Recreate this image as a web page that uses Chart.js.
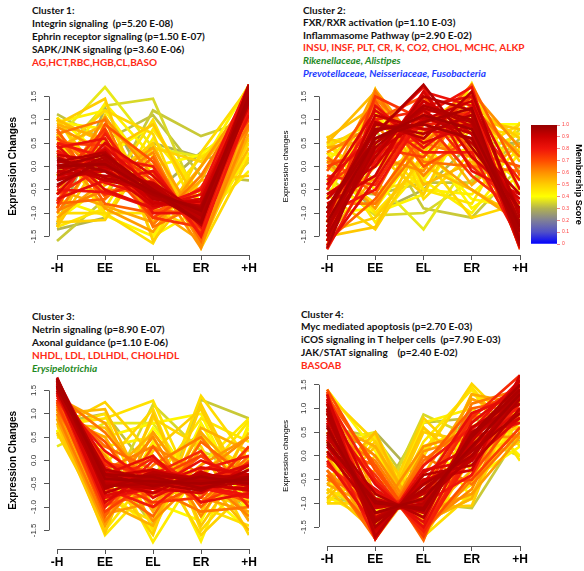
<!DOCTYPE html>
<html>
<head>
<meta charset="utf-8">
<script src="https://cdn.jsdelivr.net/npm/chart.js@4.4.1/dist/chart.umd.min.js"></script>
<style>
  body { margin: 0; background: #fff; }
  #page { position: relative; width: 584px; height: 571px; overflow: hidden; }
  canvas { position: absolute; }
  .notes { position: absolute; font-family: Lato, "Liberation Sans", sans-serif; font-size: 10px; font-weight: bold; white-space: pre; color: #111; }
  .k { color: #111; }
  .r { color: #ff2a14; }
  .g { color: #1f8a1f; font-style: italic; }
  .b { color: #1e3cff; font-style: italic; }
</style>
</head>
<body>
<div id="page">
  <div class="notes" id="n1" style="left:32px;top:3.5px;line-height:13px"></div>
  <div class="notes" id="n2" style="left:303px;top:3.7px;line-height:12.6px"></div>
  <div class="notes" id="n3" style="left:32px;top:309.5px;line-height:13px"></div>
  <div class="notes" id="n4" style="left:301px;top:307.6px;line-height:12.75px"></div>
  <canvas id="c1" style="left:0;top:70px" width="275" height="215"></canvas>
  <canvas id="c2" style="left:275px;top:70px" width="265" height="215"></canvas>
  <canvas id="c3" style="left:0;top:364px" width="275" height="215"></canvas>
  <canvas id="c4" style="left:275px;top:358px" width="265" height="215"></canvas>
  <canvas id="cbar" style="left:520px;top:109px" width="64" height="150"></canvas>
</div>
<script>
// --- data ---
const stageLabels = ['-H', 'EE', 'EL', 'ER', '+H'];
const yTickValues = [-1.5, -1, -0.5, 0, 0.5, 1, 1.5];
const membershipTicks = [0, 0.1, 0.2, 0.3, 0.4, 0.5, 0.6, 0.7, 0.8, 0.9, 1];

// each row: -H, EE, EL, ER, +H
const cluster1Profiles = [
  [0.0, 0.05, -0.55, -0.95, 1.5], [-0.2, 0.2, -0.5, -1.05, 1.55], [0.15, -0.1, -0.6, -0.9, 1.45],
  [-0.3, 0.0, -0.4, -1.15, 1.65], [0.1, 0.3, -0.7, -0.85, 1.4], [-0.1, -0.2, -0.35, -1.0, 1.6],
  [0.25, 0.1, -0.8, -0.75, 1.35], [-0.4, 0.15, -0.6, -1.2, 1.75], [0.05, -0.3, -0.5, -1.1, 1.7],
  [-0.15, 0.35, -0.75, -0.95, 1.3], [0.2, -0.25, -0.45, -1.25, 1.75], [-0.25, -0.1, -0.85, -0.7, 1.5],
  [-0.6, 0.5, -0.2, -1.2, 1.5], [0.45, -0.5, -0.9, -0.6, 1.5], [-0.7, -0.3, -0.1, -1.3, 1.4],
  [0.4, 0.6, -1.0, -1.0, 1.1], [-0.5, -0.55, -0.9, -0.5, 1.75], [0.5, 0.2, 0.0, -1.5, 1.2],
  [-0.8, 0.7, -0.6, -0.9, 1.6], [0.3, -0.6, -0.3, -1.45, 1.7], [-0.3, 0.8, -1.1, -1.3, 1.65],
  [0.6, 0.0, -1.1, -0.45, 1.0],
  [-0.9, 0.9, 0.1, -1.5, 1.3], [0.8, -0.8, -1.0, -0.5, 1.4], [-0.8, -0.7, 0.2, -1.6, 1.6],
  [0.7, 1.0, -1.3, -0.8, 0.9], [-1.0, 0.4, -1.25, -0.2, 1.45], [0.75, -0.4, 0.3, -1.7, 0.85],
  [-0.6, 1.05, -0.2, -1.75, 1.2], [0.5, -0.9, -1.4, 0.0, 1.5], [-1.1, -0.3, 0.4, -1.3, 1.65],
  [0.9, 0.6, -0.9, -1.6, 0.7],
  [1.0, 0.5, -0.4, -1.4, 0.4], [-1.3, 0.3, 0.9, -0.9, 1.0], [0.9, 1.45, -1.6, -0.3, -0.2],
  [-1.2, -1.15, 0.4, 0.1, 1.4], [0.3, 1.2, 0.7, -1.75, 0.2], [-1.0, -1.0, -1.65, 0.3, 1.7],
  [1.05, -0.6, 1.0, -1.2, 0.5], [-1.3, 0.8, -0.6, -1.0, 1.6], [0.6, -1.1, 0.6, -0.6, 0.6],
  [-0.2, 1.35, 0.2, -1.5, 0.3], [0.95, 0.8, -1.5, -0.9, 0.8], [-1.15, -0.4, 0.0, 0.25, 1.1],
  [0.6, 1.7, 0.4, 0.2, 0.9], [0.2, 1.3, 1.45, -0.9, 0.1], [-1.6, -0.7, 1.2, 0.65, 1.0],
  [1.12, 0.55, 1.1, -0.2, -0.3], [-1.35, -1.1, 0.5, 0.2, 0.15], [-1.25, 1.25, -0.6, 0.3, 0.85],
  [-0.05, 0.1, -0.65, -1.0, 1.6], [0.1, 0.0, -0.4, -1.1, 1.45], [-0.2, -0.05, -0.7, -0.85, 1.7],
  [0.0, 0.25, -0.5, -1.2, 1.4],
  [-0.45, 0.4, -0.45, -1.1, 1.6], [0.35, -0.35, -0.65, -0.8, 1.55], [-0.6, 0.0, -0.8, -0.7, 1.75],
  [0.5, 0.45, -0.3, -1.35, 1.25],
  [-0.75, 0.75, -0.95, -1.0, 1.7], [0.65, -0.65, -0.1, -1.45, 1.35], [-0.95, -0.5, -0.55, -0.9, 1.75],
  [0.85, 0.3, -0.6, -1.2, 1.05], [-0.5, -0.85, -1.2, -0.3, 1.6], [0.4, 0.9, 0.0, -1.65, 0.95],
  [-1.2, 0.6, -1.2, 0.0, 1.3], [1.0, -0.3, 0.5, -1.7, 0.6], [-0.9, 1.1, -0.9, -1.4, 1.45],
  [0.7, -1.0, -1.0, 0.2, 0.8], [-1.3, -0.9, 0.8, -0.6, 1.5], [0.95, 1.2, -0.2, -1.1, -0.1],
  [-0.7, -1.05, -1.5, 0.0, 1.75], [1.05, 0.2, 0.9, -0.8, 0.2]
];
const cluster1Membership = [
  0.97, 0.95, 0.96, 0.93, 0.94, 0.92, 0.90, 0.95, 0.91, 0.89, 0.93, 0.88,
  0.86, 0.84, 0.83, 0.82, 0.80, 0.79, 0.78, 0.76, 0.74, 0.72,
  0.69, 0.67, 0.66, 0.64, 0.63, 0.61, 0.60, 0.58, 0.57, 0.55,
  0.53, 0.51, 0.50, 0.49, 0.48, 0.47, 0.46, 0.45, 0.44, 0.43, 0.42, 0.41,
  0.37, 0.35, 0.33, 0.32, 0.30, 0.29,
  0.94, 0.92, 0.90, 0.96,
  0.85, 0.81, 0.77, 0.73,
  0.68, 0.65, 0.62, 0.59, 0.56, 0.54,
  0.52, 0.50, 0.48, 0.46, 0.45, 0.43, 0.42, 0.40
];

const cluster2Profiles = [
  [-1.2, 0.6, 1.1, 0.8, -1.3], [-1.5, 0.4, 1.3, 1.0, -1.2], [-0.9, 0.8, 0.9, 0.6, -1.4],
  [-1.3, 0.2, 1.5, 1.2, -1.6], [-1.0, 0.9, 0.7, 1.1, -1.7], [-1.6, 0.5, 1.2, 0.5, -0.6],
  [-0.7, 0.3, 1.0, 1.4, -1.0], [-1.75, 0.7, 1.75, 0.4, -0.9], [-1.1, 1.1, 0.8, 0.9, -1.5],
  [-0.6, 0.0, 1.4, 0.7, -1.5], [-1.4, 0.95, 0.6, 1.6, -1.1], [-0.8, -0.2, 1.6, 0.2, -0.7],
  [-0.4, 1.2, 0.5, 0.9, -1.75], [-1.7, -0.3, 1.3, 1.5, -0.5], [-0.3, 0.7, 1.7, -0.1, -0.6],
  [-1.5, 1.3, 0.4, 1.2, -1.4], [-1.0, -0.5, 1.1, 1.7, -1.3], [-0.5, 1.0, 0.3, 0.3, -1.6],
  [-1.78, 0.1, 0.9, 1.0, -0.3], [-0.2, -0.4, 1.2, 1.1, -1.7], [-1.2, 1.5, 1.0, -0.2, -1.0],
  [0.0, 0.4, 0.2, 1.3, -1.78],
  [-0.1, 1.4, 0.0, 0.6, -1.6], [-1.6, -0.7, 0.7, 1.75, -0.2], [0.2, -0.6, 1.3, 0.8, -1.5],
  [-1.4, 1.6, 0.1, 0.0, -0.1], [-0.8, -0.8, 0.5, 1.3, 0.2], [0.3, 0.9, -0.2, 0.9, -1.75],
  [-1.3, 0.2, -0.1, 1.6, 0.4], [0.1, -0.9, 0.8, 0.5, -0.6], [-0.5, 1.65, 0.3, -0.5, -1.2],
  [-1.1, 0.0, 1.0, -0.4, 0.5],
  [0.5, 1.6, -0.4, 0.1, -1.4], [-1.5, -1.3, 0.6, 1.0, 0.8], [0.6, 0.3, -0.6, 1.4, -1.3],
  [-0.6, -1.35, 0.3, 1.5, 0.1], [0.4, 1.0, 0.2, -1.1, -0.8], [-1.2, 1.65, -0.7, 0.3, 0.9],
  [0.65, -1.0, 0.1, 0.4, -0.3], [-0.9, 0.5, -0.5, -0.8, 0.95], [0.3, -1.2, 0.0, 1.78, -0.6],
  [0.1, 1.2, -0.3, -1.0, 0.3], [-0.3, -1.0, -0.6, 1.2, 0.6], [0.55, 0.6, 0.4, -0.7, -0.9],
  [0.45, -0.3, -1.35, 0.2, 0.7], [-0.2, -1.05, -1.0, -0.3, 0.8], [0.5, 0.8, -0.9, -1.1, 0.0],
  [-0.5, -0.6, -0.35, -0.35, 0.6], [0.2, -1.0, -0.5, 0.5, 0.5],
  [-1.3, 0.5, 1.25, 0.95, -1.4], [-1.0, 0.75, 1.05, 0.7, -1.25], [-1.5, 0.3, 1.4, 0.85, -1.0],
  [-0.9, 0.6, 0.95, 1.25, -1.6],
  [-1.6, 0.9, 0.8, 0.6, -0.8], [-0.6, 0.1, 1.6, 1.3, -1.4], [-1.4, 1.0, 1.2, 0.0, -0.9],
  [-0.4, 0.4, 0.6, 1.5, -1.65],
  [-1.7, 1.0, 1.5, 0.3, 0.0], [0.1, 0.2, 0.9, 1.5, -1.7], [-1.2, 1.45, 0.5, 0.2, -0.8],
  [-0.2, -0.3, 1.5, 0.4, -1.2], [0.4, 0.6, 0.6, 0.2, -1.5], [-1.5, -0.2, 0.4, 1.1, 0.3],
  [0.6, 1.3, 0.0, -0.5, -1.1], [-1.4, -1.1, 0.2, 1.3, 0.6], [0.0, -0.8, 0.9, 1.6, -1.0],
  [-1.6, 1.1, -0.2, 0.8, 0.7], [0.5, -0.5, -0.3, 1.0, -1.2], [-0.7, 1.4, -0.5, -0.6, 0.4],
  [0.3, 0.0, 0.6, -0.9, -0.2], [-1.0, -0.9, 0.5, 0.9, 0.9]
];
const cluster2Membership = [
  0.97, 0.95, 0.96, 0.93, 0.94, 0.92, 0.90, 0.95, 0.91, 0.89, 0.93, 0.88,
  0.86, 0.84, 0.83, 0.82, 0.80, 0.79, 0.78, 0.76, 0.74, 0.72,
  0.69, 0.67, 0.66, 0.64, 0.63, 0.61, 0.60, 0.58, 0.57, 0.55,
  0.53, 0.51, 0.50, 0.49, 0.48, 0.47, 0.46, 0.45, 0.44, 0.43, 0.42, 0.41,
  0.37, 0.35, 0.33, 0.32, 0.30,
  0.94, 0.92, 0.90, 0.96,
  0.85, 0.81, 0.77, 0.73,
  0.68, 0.65, 0.62, 0.59, 0.56, 0.54,
  0.52, 0.50, 0.48, 0.46, 0.45, 0.43, 0.42, 0.40
];

const cluster3Profiles = [
  [1.75, -0.4, -0.45, -0.5, -0.4], [1.7, -0.6, -0.3, -0.45, -0.35], [1.6, -0.3, -0.55, -0.35, -0.5],
  [1.78, -0.5, -0.6, -0.3, -0.4], [1.65, -0.2, -0.4, -0.6, -0.45], [1.72, -0.7, -0.35, -0.4, -0.3],
  [1.55, -0.35, -0.2, -0.55, -0.6], [1.7, -0.55, -0.5, -0.65, -0.2], [1.6, -0.45, -0.7, -0.25, -0.55],
  [1.75, -0.25, -0.45, -0.5, -0.65], [1.5, -0.6, -0.25, -0.4, -0.5], [1.68, -0.4, -0.6, -0.7, -0.1],
  [1.5, -0.9, -0.2, -0.4, -0.1], [1.6, 0.0, -0.8, -0.3, -0.5], [1.4, -0.3, 0.1, -0.9, -0.7],
  [1.65, -0.8, -0.6, 0.0, -0.4], [1.35, 0.2, -0.5, -0.6, -0.8], [1.55, -0.6, -1.0, -0.2, 0.1],
  [1.45, -1.0, 0.0, -0.7, -0.2], [1.3, -0.1, -0.3, 0.2, -1.0], [1.6, -0.4, -0.9, -0.8, 0.3],
  [1.25, -1.1, -0.4, 0.1, -0.6],
  [1.2, 0.4, -1.0, -0.5, -0.9], [1.3, -1.2, 0.3, -1.0, 0.0], [1.1, -0.5, -1.2, 0.4, -0.4],
  [1.4, 0.6, -0.6, -1.1, -1.0], [1.0, -1.3, -0.1, 0.5, -0.8], [1.25, -0.7, 0.5, -1.2, 0.3],
  [1.15, 0.1, -1.3, -0.3, 0.5], [0.9, -1.4, 0.6, -0.8, -1.1], [1.35, 0.8, -0.8, 0.2, -1.3],
  [1.05, -0.9, -1.4, 0.7, 0.2],
  [1.0, 1.1, -1.0, -0.3, -1.5], [0.8, -1.55, 1.0, -1.4, 0.1], [0.9, -0.2, -1.6, 1.2, -0.8],
  [0.7, 1.25, 0.1, -1.6, -0.6], [1.1, -1.2, 0.9, 0.3, -1.6], [0.6, -0.8, -1.3, 1.38, 0.0],
  [0.75, 0.9, 1.28, -1.0, -1.4], [0.95, -1.6, -0.5, 0.9, 0.4], [0.55, 0.2, -1.75, -0.1, 0.9],
  [1.2, -1.4, 0.4, -1.73, 0.8], [0.85, 0.5, 0.8, 1.0, -1.2], [0.65, -0.3, -0.9, -1.3, 0.7],
  [0.3, 0.8, 0.8, -0.7, -1.0], [0.65, -0.9, 1.2, 0.2, -0.2], [0.55, 0.0, -1.4, 1.3, 0.9],
  [0.8, 1.0, -0.3, 0.6, -1.3],
  [1.7, -0.35, -0.5, -0.45, -0.45], [1.62, -0.5, -0.4, -0.55, -0.3], [1.75, -0.45, -0.55, -0.35, -0.55],
  [1.58, -0.3, -0.35, -0.6, -0.35],
  [1.45, -0.75, -0.55, -0.15, -0.3], [1.55, -0.15, -0.7, -0.55, -0.75], [1.4, -0.55, 0.05, -0.6, -0.05],
  [1.5, -0.05, -0.25, -0.9, -0.45],
  [1.2, -0.95, -0.7, 0.1, -0.7], [1.3, 0.3, -0.2, -0.9, 0.1], [1.0, -0.2, 0.3, -0.3, -1.2],
  [1.15, -1.15, -0.9, -0.1, 0.5], [0.95, 0.5, -1.1, 0.6, -0.5], [1.25, -0.4, 0.6, -0.7, -0.9],
  [0.8, 0.7, -0.6, -1.1, 0.6], [0.6, -1.3, 0.2, 1.1, -0.9], [1.0, -0.1, 1.1, -1.5, -0.3],
  [0.7, 1.0, -1.5, 0.5, -0.2], [0.9, -1.5, -0.2, -0.4, 0.85], [0.5, 0.3, 0.5, -1.2, 0.3],
  [1.1, -0.6, -1.5, 0.8, -1.0], [0.65, -1.0, 0.7, -0.6, -1.5]
];
const cluster3Membership = [
  0.97, 0.95, 0.96, 0.93, 0.94, 0.92, 0.90, 0.95, 0.91, 0.89, 0.93, 0.88,
  0.86, 0.84, 0.83, 0.82, 0.80, 0.79, 0.78, 0.76, 0.74, 0.72,
  0.69, 0.67, 0.66, 0.64, 0.63, 0.61, 0.60, 0.58, 0.57, 0.55,
  0.53, 0.51, 0.50, 0.49, 0.48, 0.47, 0.46, 0.45, 0.44, 0.43, 0.42, 0.41,
  0.37, 0.35, 0.33, 0.32,
  0.94, 0.92, 0.90, 0.96,
  0.85, 0.81, 0.77, 0.73,
  0.68, 0.65, 0.62, 0.59, 0.56, 0.54,
  0.52, 0.50, 0.48, 0.46, 0.45, 0.43, 0.42, 0.40
];

const cluster4Profiles = [
  [0.6, -1.2, -0.9, 0.2, 1.3], [0.9, -1.5, -0.6, 0.0, 1.2], [0.3, -1.0, -1.1, 0.4, 1.4],
  [1.1, -1.7, -0.4, -0.2, 1.0], [0.5, -0.8, -1.3, 0.5, 1.1], [0.8, -1.3, -0.8, -0.1, 1.5],
  [0.2, -1.1, -0.95, 0.3, 1.6], [1.0, -1.4, -0.7, 0.1, 0.9], [0.4, -0.9, -1.2, 0.6, 1.2],
  [0.7, -1.6, -0.5, -0.3, 1.7], [0.1, -1.2, -1.0, 0.0, 1.35], [1.2, -1.0, -1.15, 0.25, 0.8],
  [1.3, -1.75, -0.3, -0.1, 0.8], [0.0, -0.7, -1.4, 0.7, 1.5], [0.9, -0.6, -1.5, 0.4, 0.7],
  [-0.1, -1.5, -0.6, 0.9, 1.3], [1.0, -1.2, -1.0, -0.4, 1.6], [0.35, -1.75, -0.2, 0.6, 1.0],
  [1.2, -0.5, -1.6, 0.0, 1.1], [-0.2, -1.0, -0.9, 0.8, 1.7], [0.6, -0.4, -1.7, 0.3, 1.4],
  [1.35, -1.4, -0.6, -0.5, 0.6],
  [1.4, -0.3, -1.6, -0.4, 0.9], [-0.4, -1.6, -0.2, 1.0, 1.2], [0.2, -0.2, -1.78, 0.8, 1.0],
  [1.1, -1.75, 0.0, -0.6, 0.5], [-0.5, -0.9, -1.1, 1.1, 1.4], [0.8, 0.0, -1.5, -0.7, 1.3],
  [-0.3, -1.3, 0.2, 0.5, 0.9], [1.3, -0.8, -1.2, -0.8, 0.4], [0.0, -1.75, -0.4, 1.2, 0.8],
  [0.7, 0.2, -1.4, -0.9, 1.5],
  [-0.6, 0.5, -1.75, 0.4, 1.1], [-0.7, -1.6, 0.6, -0.3, 1.0], [-0.8, 0.3, -1.1, -1.05, 1.5],
  [0.0, -1.5, 0.8, -0.2, 0.3], [-1.0, -1.0, 0.0, 1.52, 0.5], [0.2, 0.45, -1.7, -0.8, 0.8],
  [-0.95, -0.3, -0.8, 1.3, 0.9], [0.5, -1.7, 0.3, 1.4, -0.1], [-0.5, 0.4, -1.5, 0.9, 0.6],
  [-0.85, -1.4, 0.2, 0.6, 1.3], [1.4, 0.1, -1.6, -0.5, 0.2], [-0.6, -0.5, -0.9, -0.9, 1.45],
  [0.3, 0.5, -1.5, 0.3, 0.7], [-0.7, -1.3, 0.87, 0.4, 0.0], [0.6, 0.4, -1.0, -1.1, 0.5],
  [-0.9, -1.0, 0.7, 0.8, 0.4], [0.0, 0.5, -0.6, 1.0, 0.3],
  [0.65, -1.35, -0.75, 0.15, 1.4], [0.45, -1.05, -1.05, 0.35, 1.25], [0.95, -1.55, -0.55, -0.05, 1.3],
  [0.25, -0.95, -1.15, 0.45, 1.5],
  [1.15, -1.65, -0.35, 0.2, 0.95], [0.05, -0.75, -1.3, 0.55, 1.6], [0.75, -0.55, -1.55, 0.1, 1.2],
  [-0.15, -1.25, -0.75, 0.85, 1.45],
  [1.25, -0.2, -1.7, 0.2, 0.7], [-0.3, -1.75, -0.1, 0.7, 1.5], [0.5, -0.1, -1.6, -0.5, 1.6],
  [0.9, -1.7, 0.1, 0.4, 0.4], [-0.6, -1.1, -0.9, 1.3, 1.1], [1.0, -0.9, -1.3, -0.3, 1.65],
  [-0.9, 0.2, -1.6, 0.6, 1.2], [-0.4, -1.7, 0.5, 0.3, 0.6], [1.3, 0.3, -1.75, 0.0, 0.4],
  [-0.7, -1.2, 0.1, 1.45, 0.2], [-1.0, 0.0, -1.3, -0.6, 1.6], [0.1, -1.6, 0.7, 1.0, 0.0],
  [-0.8, 0.45, -1.4, -0.9, 1.0], [0.3, -1.5, 0.6, -0.9, 1.2]
];
const cluster4Membership = [
  0.97, 0.95, 0.96, 0.93, 0.94, 0.92, 0.90, 0.95, 0.91, 0.89, 0.93, 0.88,
  0.86, 0.84, 0.83, 0.82, 0.80, 0.79, 0.78, 0.76, 0.74, 0.72,
  0.69, 0.67, 0.66, 0.64, 0.63, 0.61, 0.60, 0.58, 0.57, 0.55,
  0.53, 0.51, 0.50, 0.49, 0.48, 0.47, 0.46, 0.45, 0.44, 0.43, 0.42, 0.41,
  0.37, 0.35, 0.33, 0.32, 0.30,
  0.94, 0.92, 0.90, 0.96,
  0.85, 0.81, 0.77, 0.73,
  0.68, 0.65, 0.62, 0.59, 0.56, 0.54,
  0.52, 0.50, 0.48, 0.46, 0.45, 0.43, 0.42, 0.40
];

// annotation text above each panel: [text, style]
const cluster1Notes = [
  ['Cluster 1:', 'k'], ['Integrin signaling  (p=5.20 E-08)', 'k'],
  ['Ephrin receptor signaling (p=1.50 E-07)', 'k'], ['SAPK/JNK signaling (p=3.60 E-06)', 'k'],
  ['AG,HCT,RBC,HGB,CL,BASO', 'r']
];
const cluster2Notes = [
  ['Cluster 2:', 'k'], ['FXR/RXR activation (p=1.10 E-03)', 'k'], ['Inflammasome Pathway (p=2.90 E-02)', 'k'],
  ['INSU, INSF, PLT, CR, K, CO2, CHOL, MCHC, ALKP', 'r'], ['Rikenellaceae, Alistipes', 'g'],
  ['Prevotellaceae, Neisseriaceae, Fusobacteria', 'b']
];
const cluster3Notes = [
  ['Cluster 3:', 'k'], ['Netrin signaling (p=8.90 E-07)', 'k'], ['Axonal guidance (p=1.10 E-06)', 'k'],
  ['NHDL, LDL, LDLHDL, CHOLHDL', 'r'], ['Erysipelotrichia', 'g']
];
const cluster4Notes = [
  ['Cluster 4:', 'k'], ['Myc mediated apoptosis (p=2.70 E-03)', 'k'],
  ['iCOS signaling in T helper cells  (p=7.90 E-03)', 'k'], ['JAK/STAT signaling    (p=2.40 E-02)', 'k'],
  ['BASOAB', 'r']
];

// membership colour scale (blue -> grey -> yellow -> red)
const colourStops = [
  [0.0, [0, 0, 255]], [0.1, [80, 80, 200]], [0.2, [128, 128, 150]], [0.3, [178, 178, 80]],
  [0.4, [255, 255, 0]], [0.5, [255, 205, 0]], [0.6, [255, 145, 0]], [0.7, [255, 75, 0]],
  [0.8, [240, 20, 10]], [0.9, [205, 0, 0]], [1.0, [150, 0, 0]]
];

function memberColour(m) {
  for (let i = 1; i < colourStops.length; i++) {
    const [p1, c1] = colourStops[i];
    const [p0, c0] = colourStops[i - 1];
    if (m <= p1) {
      const t = (m - p0) / (p1 - p0);
      const c = c0.map((v, k) => Math.round(v + (c1[k] - v) * t));
      return `rgb(${c[0]},${c[1]},${c[2]})`;
    }
  }
  return 'rgb(150,0,0)';
}

// R style axis lines: only from first to last tick
const rAxes = {
  id: 'rAxes',
  afterDraw(chart) {
    const { ctx, chartArea, scales: { x, y } } = chart;
    ctx.save();
    ctx.strokeStyle = '#555';
    ctx.lineWidth = 1;
    ctx.beginPath();
    const by = Math.round(chartArea.bottom) + 0.5;
    ctx.moveTo(x.getPixelForValue(0), by);
    ctx.lineTo(x.getPixelForValue(stageLabels.length - 1), by);
    const lx = Math.round(chartArea.left) + 0.5;
    ctx.moveTo(lx, y.getPixelForValue(yTickValues[0]));
    ctx.lineTo(lx, y.getPixelForValue(yTickValues[yTickValues.length - 1]));
    ctx.stroke();
    ctx.restore();
  }
};

function fillNotes(id, notes) {
  document.getElementById(id).innerHTML = notes
    .map(([t, cls]) => `<div class="${cls}">${t}</div>`).join('');
}

function buildPanel(id, profiles, membership, yTitle, box) {
  const lines = profiles.map((p, i) => ({ values: p, m: membership[i] }));
  lines.sort((a, b) => b.m - a.m); // first dataset is drawn last -> high membership on top

  new Chart(document.getElementById(id), {
    type: 'line',
    data: {
      datasets: lines.map(l => ({
        data: l.values.map((v, i) => ({ x: i, y: v })),
        borderColor: memberColour(l.m),
        borderWidth: 2.7,
        pointRadius: 0,
        tension: 0,
        fill: false
      }))
    },
    options: {
      responsive: false,
      animation: false,
      devicePixelRatio: 1,
      layout: { padding: { top: box.top, right: box.right, left: 0, bottom: 0 } },
      plugins: { legend: { display: false }, tooltip: { enabled: false } },
      scales: {
        x: {
          type: 'linear', min: -0.167, max: stageLabels.length - 1,
          afterFit: s => { s.height = box.xh; },
          afterBuildTicks: s => { s.ticks = stageLabels.map((_, i) => ({ value: i })); },
          ticks: {
            callback: v => stageLabels[v], autoSkip: false, maxRotation: 0, padding: 1,
            font: { family: 'Liberation Sans', size: 12, weight: 'bold' }, color: '#000'
          },
          grid: { drawOnChartArea: false, drawTicks: true, tickLength: 5, color: '#555' },
          border: { display: false }
        },
        y: {
          min: -1.9, max: 1.9,
          afterFit: s => { s.width = box.yw; },
          afterBuildTicks: s => { s.ticks = yTickValues.map(v => ({ value: v })); },
          ticks: {
            callback: v => v.toFixed(1), minRotation: 90, maxRotation: 90, crossAlign: 'center',
            padding: 3, font: { family: 'Liberation Sans', size: 8 }, color: '#333'
          },
          grid: { drawOnChartArea: false, drawTicks: true, tickLength: 5, color: '#555' },
          border: { display: false },
          title: {
            display: true, text: yTitle, color: '#000', padding: { top: box.tp, bottom: 0 },
            font: { family: 'Liberation Sans', size: box.tf, weight: box.tb ? 'bold' : 'normal' }
          }
        }
      }
    },
    plugins: [rAxes]
  });
}

fillNotes('n1', cluster1Notes);
fillNotes('n2', cluster2Notes);
fillNotes('n3', cluster3Notes);
fillNotes('n4', cluster4Notes);

buildPanel('c1', cluster1Profiles, cluster1Membership, 'Expression Changes',
  { top: 7, right: 26, xh: 30, yw: 49, tp: 7, tf: 10, tb: true });
buildPanel('c2', cluster2Profiles, cluster2Membership, 'Expression changes',
  { top: 7, right: 20, xh: 30, yw: 44, tp: 6, tf: 8, tb: false });
buildPanel('c3', cluster3Profiles, cluster3Membership, 'Expression Changes',
  { top: 7, right: 26, xh: 30, yw: 49, tp: 7, tf: 10, tb: true });
buildPanel('c4', cluster4Profiles, cluster4Membership, 'Expression changes',
  { top: 7, right: 20, xh: 27, yw: 44, tp: 6, tf: 8, tb: false });

// membership colour bar
new Chart(document.getElementById('cbar'), {
  type: 'bar',
  data: {
    labels: ['m'],
    datasets: [{
      data: [[membershipTicks[0], membershipTicks[membershipTicks.length - 1]]],
      borderWidth: 0,
      backgroundColor: ctx => {
        const a = ctx.chart.chartArea;
        if (!a) return '#f00';
        const g = ctx.chart.ctx.createLinearGradient(0, a.bottom, 0, a.top);
        colourStops.forEach(([p, c]) => g.addColorStop(p, `rgb(${c[0]},${c[1]},${c[2]})`));
        return g;
      },
      barPercentage: 1,
      categoryPercentage: 1
    }]
  },
  options: {
    responsive: false,
    animation: false,
    devicePixelRatio: 1,
    layout: { padding: { top: 16, left: 11, bottom: 15, right: 0 } },
    plugins: { legend: { display: false }, tooltip: { enabled: false } },
    scales: {
      x: { display: false },
      y: {
        position: 'right', min: 0, max: 1,
        afterFit: s => { s.width = 27; },
        afterBuildTicks: s => { s.ticks = membershipTicks.map(v => ({ value: v })); },
        ticks: { padding: 2, font: { family: 'Liberation Sans', size: 5 }, color: '#ff3b3b' },
        grid: { drawOnChartArea: false, drawTicks: true, tickLength: 3, color: '#e88' },
        border: { display: false },
        title: {
          display: true, text: 'Membership Score', color: '#000', padding: { top: 0, bottom: 2 },
          font: { family: 'Liberation Sans', size: 9, weight: 'bold' }
        }
      }
    }
  }
});
</script>
</body>
</html>
